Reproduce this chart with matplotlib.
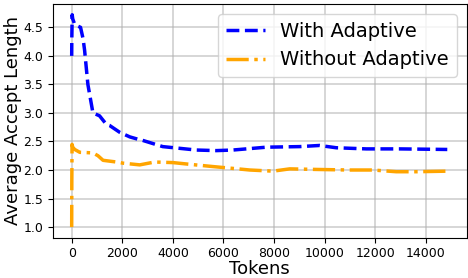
import numpy as np
import matplotlib.pyplot as plt

# running average accept length
tokens_with = [0, 5, 20, 40, 80, 120, 200, 350, 450, 510, 640, 840, 1100, 1370, 1500,
               1900, 2300, 2690, 2800, 3600, 4930, 5720, 6370, 7700, 9010, 9800,
               10460, 11650, 12960, 14850]
accept_with = [4.0, 4.3, 4.72, 4.65, 4.6, 4.55, 4.53, 4.5, 4.3, 4.1, 3.5, 3.0, 2.95, 2.80, 2.78,
               2.66, 2.58, 2.53, 2.52, 2.41, 2.35, 2.34, 2.35, 2.40, 2.41, 2.43,
               2.39, 2.37, 2.37, 2.36]

tokens_without = [0, 5, 15, 40, 120, 320, 840, 1040, 1240, 1770, 2030, 2690, 3280, 4000,
                  4660, 5590, 6570, 7040, 7960, 8620, 9670, 10990, 11910, 12830, 13620, 14870]
accept_without = [1.0, 1.8, 2.45, 2.40, 2.36, 2.31, 2.30, 2.25, 2.17, 2.14, 2.12, 2.09, 2.14, 2.13,
                  2.10, 2.06, 2.02, 2.00, 1.98, 2.02, 2.01, 2.00, 2.00, 1.97, 1.97, 1.98]

fig, ax = plt.subplots(figsize=(4.68, 2.78), dpi=100)
ax.plot(tokens_with, accept_with, '--', color='blue', linewidth=2.5, label='With Adaptive')
ax.plot(tokens_without, accept_without, '-.', color='orange', linewidth=2.5, label='Without Adaptive')

ax.set_xlabel('Tokens', fontsize=13, labelpad=0)
ax.set_ylabel('Average Accept Length', fontsize=13, labelpad=1)
ax.tick_params(labelsize=9)
ax.set_xticks([0, 2000, 4000, 6000, 8000, 10000, 12000, 14000])
ax.set_yticks([1.0, 1.5, 2.0, 2.5, 3.0, 3.5, 4.0, 4.5])
ax.grid(True, color='#b0b0b0', alpha=0.6, linewidth=1.2)
ax.legend(fontsize=14, loc='upper right', borderaxespad=0.5)

plt.subplots_adjust(left=0.113, right=0.997, top=0.985, bottom=0.145)
plt.savefig('out.png')
